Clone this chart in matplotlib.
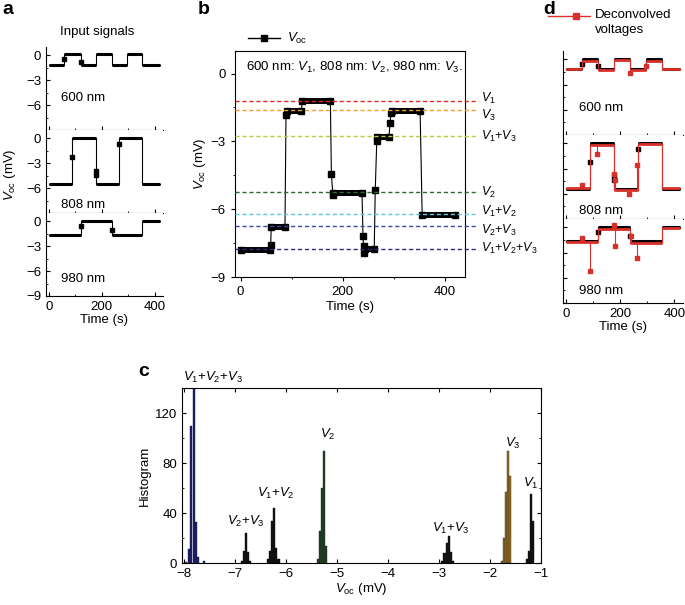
import numpy as np
import matplotlib
matplotlib.use('Agg')
import matplotlib.pyplot as plt
from matplotlib.lines import Line2D
from matplotlib.ticker import MultipleLocator

plt.rcParams['font.family'] = ['Liberation Sans', 'DejaVu Sans']
plt.rcParams['font.size'] = 9.5
plt.rcParams['mathtext.fontset'] = 'custom'
plt.rcParams['mathtext.rm'] = 'Liberation Sans'
plt.rcParams['mathtext.it'] = 'Liberation Sans:italic'
plt.rcParams['mathtext.bf'] = 'Liberation Sans:bold'
plt.rcParams['axes.linewidth'] = 0.8

#==================== data ====================
# input signals (panels a, d): step breakpoints (s) and levels (mV)
ch_names = ['600 nm', '808 nm', '980 nm']
in_t = [[0, 58, 120, 178, 238, 294, 354, 420],
        [0, 88, 178, 266, 354, 420],
        [0, 120, 238, 354, 420]]
in_v = [[-1.15, 0.1, -1.15, 0.1, -1.15, 0.1, -1.15],
        [-5.45, 0.05, -5.45, 0.05, -5.45],
        [-1.6, 0.0, -1.6, 0.0]]
in_jump_t = [[58, 120], [88, 178, 179, 266], [120, 238]]
in_jump_v = [[-0.5, -0.8], [-2.2, -3.9, -4.4, -0.7], [-0.6, -1.0]]

# deconvolved voltages (panel d), same breakpoints as the inputs
dec_v = [[-1.2, -0.15, -1.25, -0.1, -1.3, -0.15, -1.2],
         [-5.3, -0.15, -5.5, -0.1, -5.3],
         [-1.7, -0.15, -1.85, -0.05]]
dec_spike_t = [[238, 296], [58, 114, 178, 180, 232, 262], [58, 88, 178, 180, 240, 262]]
dec_spike_v = [[-1.6, -0.8], [-4.9, -1.3, -3.6, -4.3, -6.0, -2.6], [-1.3, -5.2, 0.25, -2.2, -1.0, -3.7]]

# measured Voc (panel b): plateaus and transition points
voc_t0 = [0, 60, 90, 121, 182, 243, 268, 297, 356]
voc_t1 = [57, 87, 119, 176, 238, 262, 291, 352, 420]
voc_v = [-7.8, -6.77, -1.66, -1.21, -5.27, -7.76, -2.80, -1.66, -6.24]
jump_t = [59, 89, 178, 181, 240, 241, 242, 264, 267, 293, 295]
jump_v = [-7.58, -1.82, -4.45, -5.38, -7.2, -7.62, -7.95, -5.15, -3.0, -2.18, -1.74]

# reference levels
lvl_names = [r'$V_1$', r'$V_3$', r'$V_1$+$V_3$', r'$V_2$', r'$V_1$+$V_2$', r'$V_2$+$V_3$', r'$V_1$+$V_2$+$V_3$']
lvl_vals = [-1.2, -1.63, -2.78, -5.25, -6.2, -6.74, -7.74]
lvl_colors = ['#e2262b', '#f39c2c', '#b6cf3c', '#2f6a35', '#62c8dc', '#3b4aa6', '#2b2a86']

# histogram (panel c): bin centres (mV) and counts
h123_x = [-7.96, -7.90, -7.85, -7.80, -7.75, -7.71, -7.59]
h123_n = [1, 11, 110, 146, 33, 5, 2]
h23_x = [-6.86, -6.82, -6.78, -6.74, -6.70]
h23_n = [2, 10, 24, 9, 2]
h12_x = [-6.34, -6.30, -6.26, -6.22, -6.18, -6.14]
h12_n = [3, 10, 34, 44, 12, 3]
h2_x = [-5.37, -5.33, -5.29, -5.25, -5.21]
h2_n = [3, 26, 60, 90, 14]
h13_x = [-2.93, -2.89, -2.85, -2.81, -2.77, -2.73]
h13_n = [2, 8, 16, 22, 9, 2]
h3_x = [-1.77, -1.73, -1.69, -1.65, -1.61]
h3_n = [2, 20, 57, 90, 70]
h1_x = [-1.27, -1.23, -1.19, -1.15]
h1_n = [3, 10, 55, 34]

W, H = 685, 605
fig = plt.figure(figsize=(W / 100, H / 100), dpi=100)


def box(x0, y0, x1, y1):
    # pixel box (top-left origin) -> figure rect
    return [x0 / W, 1 - y1 / H, (x1 - x0) / W, (y1 - y0) / H]


def steps(ax, t, v, color, lw):
    ax.step(t, list(v) + [v[-1]], where='post', color=color, lw=0.8)
    ax.hlines(v, t[:-1], t[1:], color=color, lw=lw)


def stack_axes(x0, x1, y0, y1):
    hh = (y1 - y0) / 3
    axs = []
    for i in range(3):
        ax = fig.add_axes(box(x0, y0 + i * hh, x1, y0 + (i + 1) * hh))
        ax.set_xlim(-11, 432)
        ax.set_ylim(-9, 1)
        ax.spines['top'].set_visible(False)
        ax.spines['right'].set_visible(False)
        ax.xaxis.set_major_locator(MultipleLocator(200))
        ax.xaxis.set_minor_locator(MultipleLocator(100))
        ax.yaxis.set_major_locator(MultipleLocator(3))
        ax.yaxis.set_minor_locator(MultipleLocator(1.5))
        ax.tick_params(which='both', direction='in', labelsize=9.5)
        ax.tick_params(which='major', length=3)
        ax.tick_params(which='minor', length=1.5)
        if i < 2:
            ax.tick_params(labelbottom=False)
            ax.set_yticks([0, -3, -6])
        else:
            ax.set_yticks([0, -3, -6, -9])
            ax.set_xlabel('Time (s)', labelpad=1)
        axs.append(ax)
    return axs


#==================== panel a ====================
axa = stack_axes(46, 163, 47, 296)
a_txt = [-5.2, -8.0, -6.9]
for i, ax in enumerate(axa):
    steps(ax, in_t[i], in_v[i], 'black', 2.2)
    ax.plot(in_jump_t[i], in_jump_v[i], 's', color='black', ms=2.5, lw=0)
    ax.text(130, a_txt[i], ch_names[i], ha='center', va='center', fontsize=9.5)
fig.text(97 / W, 1 - 32 / H, 'Input signals', ha='center', va='center', fontsize=9.5)
fig.text(10 / W, 1 - 175 / H, r'$V_{\rm oc}$ (mV)', rotation=90, ha='center', va='center', fontsize=9.5)

#==================== panel d ====================
axd = stack_axes(563, 683, 51, 303)
d_txt = [-5.8, -8.0, -7.6]
red = '#d8302a'
for i, ax in enumerate(axd):
    steps(ax, in_t[i], in_v[i], 'black', 2.2)
    ax.plot(in_jump_t[i], in_jump_v[i], 's', color='black', ms=2.5, lw=0)
    steps(ax, in_t[i], dec_v[i], red, 2.0)
    base = [dec_v[i][np.searchsorted(in_t[i], s, side='right') - 1] for s in dec_spike_t[i]]
    ax.vlines(dec_spike_t[i], base, dec_spike_v[i], color=red, lw=0.8)
    ax.plot(dec_spike_t[i], dec_spike_v[i], 's', color=red, ms=2.5, lw=0)
    ax.text(130, d_txt[i], ch_names[i], ha='center', va='center', fontsize=9.5)
    ax.tick_params(labelleft=False)
yl = 1 - 16 / H
fig.add_artist(Line2D([548 / W, 590 / W], [yl, yl], color=red, lw=1))
fig.add_artist(Line2D([576 / W], [yl], color=red, marker='s', ms=4))
fig.text(595 / W, 1 - 15 / H, 'Deconvolved', va='center', fontsize=9.5)
fig.text(595 / W, 1 - 30 / H, 'voltages', va='center', fontsize=9.5)

#==================== panel b ====================
axb = fig.add_axes(box(235, 51, 465, 277))
axb.set_xlim(-11, 440)
axb.set_ylim(-9, 1)
# thin connecting trace
pts_t = list(voc_t0) + list(voc_t1) + list(jump_t)
pts_v = list(voc_v) + list(voc_v) + list(jump_v)
order = np.argsort(pts_t, kind='stable')
axb.plot(np.array(pts_t)[order], np.array(pts_v)[order], color='black', lw=0.8)
axb.hlines(voc_v, voc_t0, voc_t1, color='black', lw=4.3)
axb.plot(voc_t0 + voc_t1, voc_v + voc_v, 's', color='black', ms=4.5, lw=0)
axb.plot(jump_t, jump_v, 's', color='black', ms=4.5, lw=0)
lab_shift = [0.1, -0.2, 0, 0, 0.1, -0.2, 0]
for name, val, col, dv in zip(lvl_names, lvl_vals, lvl_colors, lab_shift):
    axb.plot([-11, 465], [val, val], color=col, lw=1, dashes=(3, 2), clip_on=False, zorder=5)
    axb.text(471, val + dv, name, ha='left', va='center', fontsize=9, clip_on=False)
axb.text(0.048, 0.925, r'600 nm: $V_1$, 808 nm: $V_2$, 980 nm: $V_3$.', transform=axb.transAxes,
         ha='left', va='center', fontsize=9.5)
axb.set_xticks([0, 200, 400])
axb.xaxis.set_minor_locator(MultipleLocator(100))
axb.set_yticks([0, -3, -6, -9])
axb.yaxis.set_minor_locator(MultipleLocator(1.5))
axb.tick_params(which='both', direction='out', labelsize=9.5)
axb.tick_params(which='major', length=3)
axb.tick_params(which='minor', length=1.5)
axb.set_xlabel('Time (s)', labelpad=2)
axb.set_ylabel(r'$V_{\rm oc}$ (mV)', labelpad=2)
yl = 1 - 38 / H
fig.add_artist(Line2D([248 / W, 280 / W], [yl, yl], color='black', lw=1))
fig.add_artist(Line2D([264 / W], [yl], color='black', marker='s', ms=4.5))
fig.text(287 / W, yl, r'$V_{\rm oc}$', va='center', fontsize=9.5)

#==================== panel c ====================
axc = fig.add_axes(box(182, 388, 541, 563))
bw = 0.04
for xs, ns, col in [(h123_x, h123_n, '#1c1d5e'), (h23_x, h23_n, '#111111'), (h12_x, h12_n, '#111111'),
                    (h2_x, h2_n, '#1f3a22'), (h13_x, h13_n, '#111111'), (h3_x, h3_n, '#94702a'),
                    (h1_x, h1_n, '#111111')]:
    edge = '#3a2a08' if col == '#94702a' else col
    axc.bar(xs, ns, width=bw, color=col, edgecolor=edge, linewidth=0.3)
axc.set_xlim(-8.03, -1.0)
axc.set_ylim(0, 140)
axc.set_xticks(range(-8, 0))
axc.set_yticks([0, 40, 80, 120])
axc.yaxis.set_minor_locator(MultipleLocator(20))
axc.tick_params(which='both', direction='in', top=True, right=True, labelsize=9.5)
axc.tick_params(which='major', length=3)
axc.tick_params(which='minor', length=1.5)
axc.set_xlabel(r'$V_{\rm oc}$ (mV)', labelpad=1)
axc.set_ylabel('Histogram', labelpad=3)
c_lab = [(r'$V_2$+$V_3$', -6.78, 33), (r'$V_1$+$V_2$', -6.19, 56), (r'$V_2$', -5.17, 103),
         (r'$V_1$+$V_3$', -2.76, 28), (r'$V_3$', -1.55, 96), (r'$V_1$', -1.2, 64)]
for s, x, y in c_lab:
    axc.text(x, y, s, ha='center', va='center', fontsize=9.5)
axc.text(-7.42, 1.06, r'$V_1$+$V_2$+$V_3$', transform=axc.get_xaxis_transform(),
         ha='center', va='center', fontsize=9.5, clip_on=False)

# panel letters
for s, x, y in [('a', 2, 10), ('b', 198, 10), ('d', 543, 10), ('c', 138, 372)]:
    fig.text(x / W, 1 - y / H, s, fontsize=14, fontweight='bold', ha='left', va='center')

fig.savefig('out.png', dpi=100)
